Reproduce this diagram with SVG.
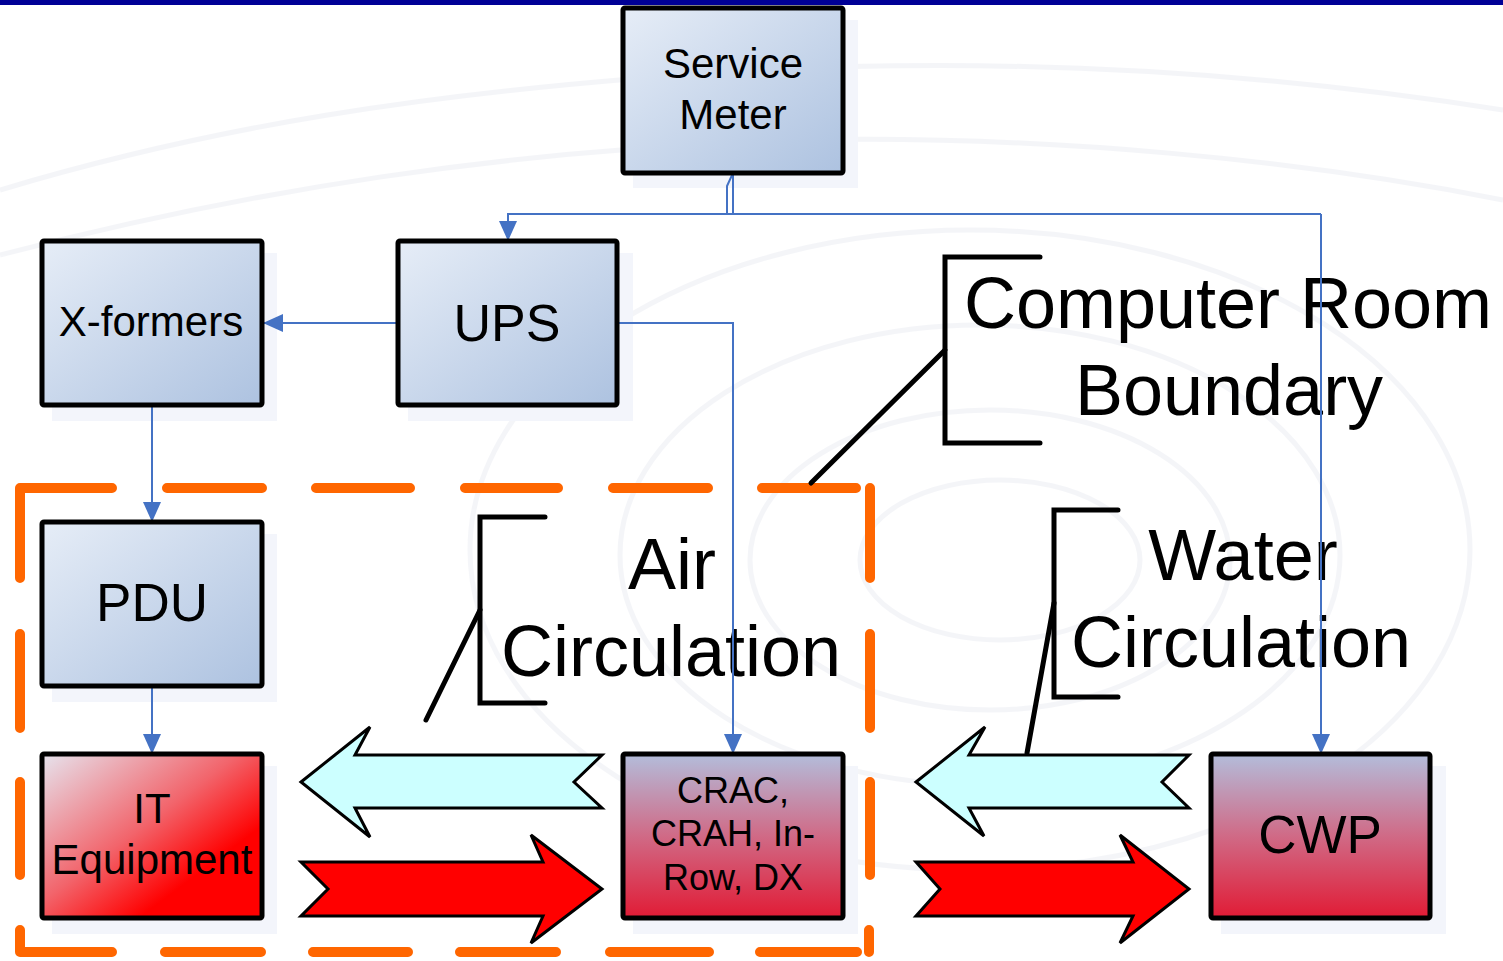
<svg xmlns="http://www.w3.org/2000/svg" width="1503" height="961" viewBox="0 0 1503 961">
  <defs>
    <linearGradient id="gBlue" x1="0" y1="0" x2="1" y2="1">
      <stop offset="0" stop-color="#e6edf7"/>
      <stop offset="1" stop-color="#adc2e0"/>
    </linearGradient>
    <linearGradient id="gIT" x1="0" y1="0" x2="1" y2="1">
      <stop offset="0" stop-color="#e6e4ee"/>
      <stop offset="0.45" stop-color="#f2646b"/>
      <stop offset="0.72" stop-color="#ff0000"/>
      <stop offset="1" stop-color="#ff0000"/>
    </linearGradient>
    <linearGradient id="gCool" x1="0" y1="0" x2="0" y2="1">
      <stop offset="0" stop-color="#b3bddb"/>
      <stop offset="0.5" stop-color="#d06a86"/>
      <stop offset="1" stop-color="#e11b35"/>
    </linearGradient>
    <marker id="ah" viewBox="0 0 20 20" refX="20" refY="10" markerWidth="20" markerHeight="20" markerUnits="userSpaceOnUse" orient="auto">
      <path d="M0,1 L20,10 L0,19 Z" fill="#4472c4"/>
    </marker>
  </defs>
  <style>
    .box { stroke: #000; stroke-width: 5; }
    .shadow { fill: #f3f5fb; }
    .lbl { font-family: "Liberation Sans", Arial, sans-serif; fill: #000; text-anchor: middle; }
    .conn { fill: none; stroke: #4472c4; stroke-width: 2; }
    .dash { fill: none; stroke: #ff6600; stroke-width: 10; stroke-linecap: round; stroke-linejoin: round; }
    .brk { fill: none; stroke: #000; stroke-width: 5; stroke-linecap: round; stroke-linejoin: miter; }
    .swirl { fill: none; stroke: #eceef4; stroke-width: 5; }
    .big { font-size: 72px; }
  </style>

  <rect x="0" y="0" width="1503" height="961" fill="#ffffff"/>

  <!-- faint background swirls -->
  <g id="background" opacity="0.55">
    <path class="swirl" d="M0,190 C200,130 420,90 760,70 C1000,58 1250,70 1503,110"/>
    <path class="swirl" d="M0,255 C250,190 500,150 800,140 C1050,135 1300,160 1503,200"/>
    <ellipse class="swirl" cx="1000" cy="560" rx="140" ry="80"/>
    <ellipse class="swirl" cx="990" cy="560" rx="240" ry="150"/>
    <ellipse class="swirl" cx="980" cy="555" rx="360" ry="230"/>
    <ellipse class="swirl" cx="970" cy="550" rx="500" ry="320"/>
  </g>

  <rect x="0" y="0" width="1503" height="5" fill="#000096"/>

  <!-- shadows -->
  <g id="shadows">
    <rect class="shadow" x="633" y="20" width="225" height="168"/>
    <rect class="shadow" x="52" y="253" width="225" height="168"/>
    <rect class="shadow" x="408" y="253" width="225" height="168"/>
    <rect class="shadow" x="52" y="534" width="225" height="168"/>
    <rect class="shadow" x="52" y="766" width="225" height="168"/>
    <rect class="shadow" x="633" y="766" width="225" height="168"/>
    <rect class="shadow" x="1221" y="766" width="225" height="168"/>
  </g>

  <!-- computer room boundary (dashed) -->
  <g id="room-boundary">
    <path class="dash" d="M20,578 V488 H112"/>
    <path class="dash" d="M167,488 H262 M316,488 H410 M465,488 H558 M613,488 H708 M762,488 H856"/>
    <path class="dash" d="M870,488 V578 M870,634 V728 M870,782 V875 M869,930 V952"/>
    <path class="dash" d="M20,930 V952 H112"/>
    <path class="dash" d="M165,952 H261 M313,952 H408 M460,952 H556 M610,952 H709 M760,952 H857"/>
    <path class="dash" d="M20,634 V728 M20,782 V875"/>
  </g>

  <!-- callouts -->
  <g id="callout-room">
    <path class="brk" d="M1040,257 H945 V443 H1040"/>
    <path class="brk" d="M945,350 L811,483"/>
    <text class="lbl big" x="1228" y="328">Computer Room</text>
    <text class="lbl big" x="1229" y="415">Boundary</text>
  </g>
  <g id="callout-air">
    <path class="brk" d="M545,517 H480 V703 H545"/>
    <path class="brk" d="M480,610 L426,720"/>
    <text class="lbl big" x="672" y="589">Air</text>
    <text class="lbl big" x="671" y="676">Circulation</text>
  </g>
  <g id="callout-water">
    <path class="brk" d="M1118,510 H1054 V697 H1118"/>
    <path class="brk" d="M1054,603 L1027,753"/>
    <text class="lbl big" x="1243" y="580">Water</text>
    <text class="lbl big" x="1241" y="667">Circulation</text>
  </g>

  <!-- flow arrows -->
  <g id="air-arrows" stroke="#000" stroke-width="3" stroke-linejoin="miter">
    <path d="M301,782 L370,727 L355,755 L602,755 L574,782 L602,808 L355,808 L370,837 Z" fill="#ccffff"/>
    <path d="M301,862 L543,862 L531,835 L602,889 L531,943 L543,916 L301,916 L328,889 Z" fill="#ff0000"/>
  </g>
  <g id="water-arrows" stroke="#000" stroke-width="3" stroke-linejoin="miter">
    <path d="M916,782 L985,727 L969,755 L1189,755 L1162,782 L1189,808 L969,808 L984,836 Z" fill="#ccffff"/>
    <path d="M916,862 L1133,862 L1120,835 L1189,889 L1120,943 L1133,916 L916,916 L940,889 Z" fill="#ff0000"/>
  </g>

  <!-- connectors -->
  <g id="connectors">
    <path class="conn" d="M733,173 L727,186 L727,214"/>
    <path class="conn" d="M733,173 L733,214"/>
    <path class="conn" d="M1321,214 H508 V241" marker-end="url(#ah)"/>
    <path class="conn" d="M1321,214 V754" marker-end="url(#ah)"/>
    <path class="conn" d="M398,323 H263" marker-end="url(#ah)"/>
    <path class="conn" d="M617,323 H733 V754" marker-end="url(#ah)"/>
    <path class="conn" d="M152,405 V522" marker-end="url(#ah)"/>
    <path class="conn" d="M152,686 V754" marker-end="url(#ah)"/>
  </g>

  <!-- nodes -->
  <g id="service-meter">
    <rect class="box" x="623" y="8" width="220" height="165" rx="2" fill="url(#gBlue)"/>
    <text class="lbl" font-size="42" x="733" y="78">Service</text>
    <text class="lbl" font-size="42" x="733" y="129">Meter</text>
  </g>
  <g id="x-formers">
    <rect class="box" x="42" y="241" width="220" height="164" rx="2" fill="url(#gBlue)"/>
    <text class="lbl" font-size="42" x="151" y="336">X-formers</text>
  </g>
  <g id="ups">
    <rect class="box" x="398" y="241" width="219" height="164" rx="2" fill="url(#gBlue)"/>
    <text class="lbl" font-size="52" x="507" y="341">UPS</text>
  </g>
  <g id="pdu">
    <rect class="box" x="42" y="522" width="220" height="164" rx="2" fill="url(#gBlue)"/>
    <text class="lbl" font-size="53" x="152" y="621">PDU</text>
  </g>
  <g id="it-equipment">
    <rect class="box" x="42" y="754" width="220" height="164" rx="2" fill="url(#gIT)"/>
    <text class="lbl" font-size="42" x="152" y="823">IT</text>
    <text class="lbl" font-size="42" x="152" y="874">Equipment</text>
  </g>
  <g id="crac">
    <rect class="box" x="623" y="754" width="220" height="164" rx="2" fill="url(#gCool)"/>
    <text class="lbl" font-size="36" x="733" y="803">CRAC,</text>
    <text class="lbl" font-size="36" x="733" y="846">CRAH, In-</text>
    <text class="lbl" font-size="36" x="733" y="890">Row, DX</text>
  </g>
  <g id="cwp">
    <rect class="box" x="1211" y="754" width="219" height="164" rx="2" fill="url(#gCool)"/>
    <text class="lbl" font-size="53" x="1320" y="853">CWP</text>
  </g>
</svg>
